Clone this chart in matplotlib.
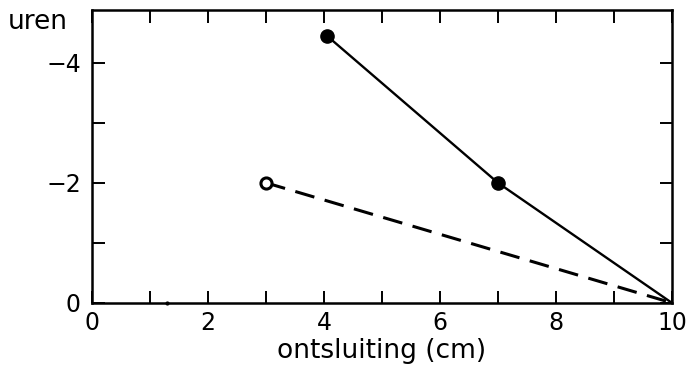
import matplotlib
matplotlib.use("Agg")
import matplotlib.pyplot as plt
from matplotlib.ticker import MultipleLocator

# === DATOS ===
# lijn met gesloten punten
ontsluiting_vol = [4.05, 7.0, 10.0]
uren_vol = [-4.45, -2.0, 0.0]
# gestreepte lijn met open punt
ontsluiting_open = [3.0, 10.0]
uren_open = [-2.0, 0.0]
# klein stipje op de as
stip_x = [1.3]
stip_y = [0.0]

x_ticks = [0, 2, 4, 6, 8, 10]
y_ticks = [0, -2, -4]

plt.rcParams['font.family'] = ['DejaVu Sans']

fig = plt.figure(figsize=(6.87, 3.68), dpi=100)
ax = fig.add_axes([0.134, 0.177, 0.844, 0.796])

# gestreepte lijn
ax.plot(ontsluiting_open, uren_open, color='black', lw=2.2, ls=(0, (6.5, 3.5)))
ax.plot(ontsluiting_open[0], uren_open[0], 'o', ms=8, mfc='white', mec='black', mew=2.2)

# doorgetrokken lijn
ax.plot(ontsluiting_vol, uren_vol, color='black', lw=1.7)
ax.plot(ontsluiting_vol[:2], uren_vol[:2], 'o', ms=9.5, color='black', ls='none')

ax.plot(stip_x, stip_y, '.', ms=4, color='black', clip_on=False)

ax.set_xlim(0, 10)
ax.set_ylim(0, -4.88)

ax.set_xticks(x_ticks)
ax.set_yticks(y_ticks)
ax.set_yticklabels(['0', '\u22122', '\u22124'])
ax.xaxis.set_minor_locator(MultipleLocator(1))
ax.yaxis.set_minor_locator(MultipleLocator(1))

ax.tick_params(which='both', direction='in', top=True, right=True,
               width=1.4, length=9, labelsize=17)
ax.tick_params(axis='x', which='major', pad=6)
ax.tick_params(axis='y', which='major', pad=8)
for spine in ax.spines.values():
    spine.set_linewidth(1.8)

ax.set_xlabel('ontsluiting (cm)', fontsize=19, labelpad=2)
fig.text(0.012, 0.94, 'uren', fontsize=19, ha='left', va='center')

plt.savefig('out.png', dpi=100)
plt.close()
